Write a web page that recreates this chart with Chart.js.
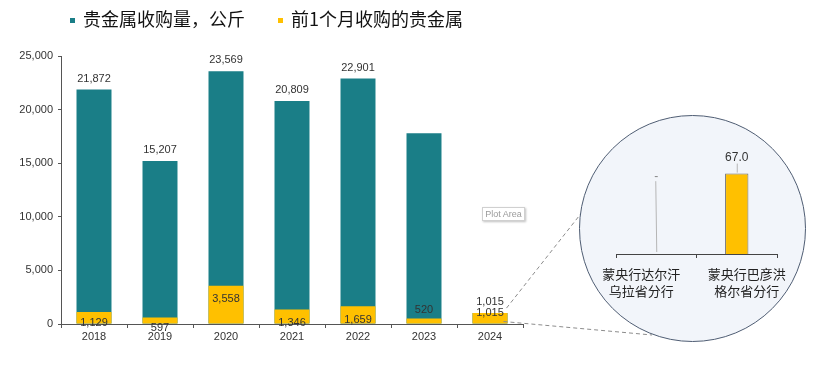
<!DOCTYPE html>
<html><head><meta charset="utf-8">
<script src="https://cdn.jsdelivr.net/npm/chart.js"></script>
<style>
html,body{margin:0;padding:0;background:#fff;}
#wrap{position:relative;width:825px;height:383px;overflow:hidden;background:#fff;}
#main{position:absolute;left:0;top:0;}
.leg{position:absolute;top:6px;font-family:"Noto Sans CJK SC",sans-serif;font-size:18px;color:#111;line-height:24px;white-space:nowrap;}
.leg i{display:inline-block;width:5px;height:5px;margin-right:8px;vertical-align:middle;position:relative;top:-1px;}
#circle{position:absolute;left:579px;top:115px;width:227px;height:227px;border-radius:50%;background:#f2f5fa;border:1.5px solid #4f5d73;box-sizing:border-box;}
#inset{position:absolute;left:596px;top:130px;}
#plotarea{position:absolute;left:482px;top:207px;width:43px;height:14px;border:1px solid #d0d0d0;box-shadow:1px 1px 2px rgba(0,0,0,0.25);font:9px "Liberation Sans",Arial,sans-serif;color:#9a9a9a;line-height:12px;text-align:center;background:#fff;box-sizing:border-box;}
</style></head>
<body>
<div id="wrap">
  <canvas id="main" width="825" height="383"></canvas>
  <div class="leg" style="left:70px;"><i style="background:#1a7e87"></i>贵金属收购量，公斤</div>
  <div class="leg" style="left:278px;"><i style="background:#ffc000"></i>前1个月收购的贵金属</div>
  <div id="plotarea">Plot Area</div>
  <div id="circle"></div>
  <canvas id="inset" width="200" height="180"></canvas>
</div>
<script>
// ---- data ----
const years = ["2018","2019","2020","2021","2022","2023","2024"];
const totalKg = [21872,15207,23569,20809,22901,17800,1015];
const lastMonthKg = [1129,597,3558,1346,1659,520,1015];
const showTotalLabel = [true,true,true,true,true,false,true];
const yTicks = [0,5000,10000,15000,20000,25000];
const branches = [["蒙央行达尔汗","乌拉省分行"],["蒙央行巴彦洪","格尔省分行"]];
const branchKg = [0, 67.0];

const fmt = v => Number(v).toLocaleString('en-US');
const LAT = '"Liberation Sans", Arial, sans-serif';
const CJK = '"Noto Sans CJK SC", sans-serif';

const mainLabels = {
  id: 'mainLabels',
  afterDatasetsDraw(chart, args, opts) {
    const ctx = chart.ctx;
    const tMeta = chart.getDatasetMeta(0), yMeta = chart.getDatasetMeta(1);
    ctx.save();
    ctx.font = '11px ' + LAT;
    ctx.fillStyle = '#333';
    ctx.textAlign = 'center';
    ctx.textBaseline = 'middle';
    tMeta.data.forEach((bar, i) => {
      if (showTotalLabel[i]) ctx.fillText(fmt(totalKg[i]), bar.x, bar.y - 11);
    });
    yMeta.data.forEach((bar, i) => {
      const cy = (bar.y + bar.base) / 2 + opts.nudge[i];
      ctx.fillText(fmt(lastMonthKg[i]), bar.x, cy);
    });
    const b = yMeta.data[yMeta.data.length - 1];
    const right = b.x + b.width / 2;
    ctx.strokeStyle = '#8c8c8c';
    ctx.setLineDash([4, 3]);
    ctx.lineWidth = 1;
    ctx.beginPath(); ctx.moveTo(right - 1, b.y - 5); ctx.lineTo(583, 211); ctx.stroke();
    ctx.beginPath(); ctx.moveTo(right - 4, b.base - 2); ctx.lineTo(652, 335); ctx.stroke();
    ctx.restore();
  }
};

new Chart(document.getElementById('main'), {
  type: 'bar',
  data: {
    labels: years,
    datasets: [
      { label: '贵金属收购量，公斤', data: totalKg, backgroundColor: '#1a7e87', order: 2,
        barPercentage: 0.53, categoryPercentage: 1 },
      { label: '前1个月收购的贵金属', data: lastMonthKg, backgroundColor: '#ffc000', order: 1,
        barPercentage: 0.53, categoryPercentage: 1 }
    ]
  },
  options: {
    responsive: false, animation: false, devicePixelRatio: 1,
    layout: { padding: { top: 56, right: 302, left: 0, bottom: 0 } },
    plugins: { legend: { display: false }, tooltip: { enabled: false },
      mainLabels: { nudge: [5, 7, -6, 6, 5, -11, -5] } },
    scales: {
      x: {
        stacked: true,
        grid: { offset: true, drawOnChartArea: false, tickLength: 4, color: '#555' },
        border: { color: '#555' },
        ticks: { font: { size: 11, family: LAT }, color: '#333', padding: 2 },
        afterFit(a) { a.height = 59; }
      },
      y: {
        stacked: false, min: 0, max: 25000,
        afterBuildTicks(a) { a.ticks = yTicks.map(v => ({ value: v })); },
        grid: { drawOnChartArea: false, tickLength: 3, color: '#555' },
        border: { color: '#555' },
        ticks: { callback: v => fmt(v), font: { size: 11, family: LAT }, color: '#333', padding: 5 },
        afterFit(a) { a.width = 61; }
      }
    }
  },
  plugins: [mainLabels]
});

const insetLabels = {
  id: 'insetLabels',
  afterDatasetsDraw(chart, args, opts) {
    const ctx = chart.ctx;
    const meta = chart.getDatasetMeta(0);
    const y = chart.scales.y;
    ctx.save();
    ctx.font = '12px ' + LAT;
    ctx.fillStyle = '#333';
    ctx.textAlign = 'center';
    ctx.textBaseline = 'middle';
    ctx.strokeStyle = '#b5b5b5';
    ctx.lineWidth = 1;
    meta.data.forEach((bar, i) => {
      const v = branchKg[i];
      if (!v) {
        const ly = y.getPixelForValue(opts.dashLabelAt);
        ctx.fillStyle = '#888';
        ctx.fillText('-', bar.x, ly - 1);
        ctx.beginPath(); ctx.moveTo(bar.x - 0.5, ly + 4); ctx.lineTo(bar.x + 0.5, bar.base - 2); ctx.stroke();
        ctx.fillStyle = '#333';
      } else {
        const ly = bar.y - 16;
        ctx.fillText(v.toFixed(1), bar.x, ly);
        ctx.beginPath(); ctx.moveTo(bar.x + 0.5, ly + 6); ctx.lineTo(bar.x + 0.5, bar.y - 1); ctx.stroke();
      }
    });
    // category labels (Excel placed them off-centre)
    ctx.font = '13px ' + CJK;
    ctx.fillStyle = '#222';
    const xs = chart.scales.x;
    branches.forEach((lines, i) => {
      const cx = xs.getPixelForValue(i) + opts.labelShift[i];
      lines.forEach((t, k) => ctx.fillText(t, cx, xs.top + 20 + k * 17));
    });
    ctx.restore();
  }
};

new Chart(document.getElementById('inset'), {
  type: 'bar',
  data: {
    labels: branches,
    datasets: [{ data: branchKg, backgroundColor: '#ffc000', borderColor: '#6e6e6e', borderWidth: 1,
      barPercentage: 0.29, categoryPercentage: 1 }]
  },
  options: {
    responsive: false, animation: false, devicePixelRatio: 1,
    layout: { padding: { top: 34, right: 19, left: 20, bottom: 0 } },
    plugins: { legend: { display: false }, tooltip: { enabled: false },
      insetLabels: { dashLabelAt: 64, labelShift: [-15, 10] } },
    scales: {
      x: {
        grid: { offset: true, drawOnChartArea: false, drawTicks: true, tickLength: 4, color: '#444' },
        border: { color: '#444' },
        ticks: { display: false },
        afterFit(a) { a.height = 56; }
      },
      y: { display: false, min: 0, max: 75 }
    }
  },
  plugins: [insetLabels]
});
</script>
</body></html>
